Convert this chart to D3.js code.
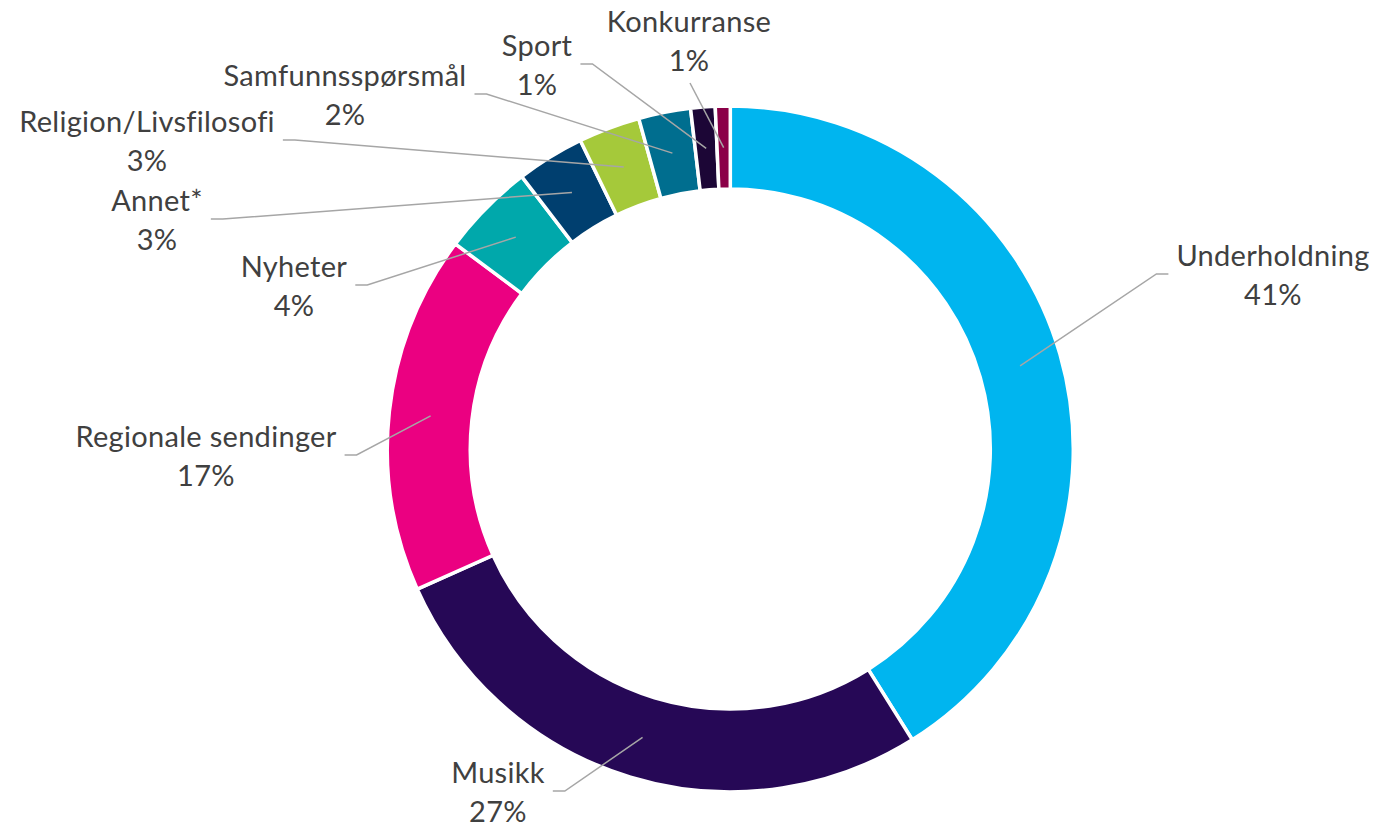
<!DOCTYPE html>
<html>
<head>
<meta charset="utf-8">
<script src="https://cdn.jsdelivr.net/npm/d3@7"></script>
<style>
    body { margin: 0; background: #fff; }
    #chart { width: 1377px; height: 829px; }
    .label { font-family: Lato, "Liberation Sans", sans-serif; font-size: 29px; letter-spacing: 0.3px;
        font-variant-ligatures: none; font-feature-settings: "liga" 0; fill: #404040; }
    .leader { fill: none; stroke: #a6a6a6; stroke-width: 1.5; }
</style>
</head>
<body>
<div id="chart"></div>
<script>

// categories, clockwise from 12 o'clock
const categories = ["Underholdning", "Musikk", "Regionale sendinger", "Nyheter", "Annet*",
    "Religion/Livsfilosofi", "Samfunnsspørsmål", "Sport", "Konkurranse"];

// share of airtime (%)
const shares = [41.1, 27.2, 16.9, 4.4, 3.2, 2.9, 2.45, 1.15, 0.7];

// printed labels
const pctLabels = ["41%", "27%", "17%", "4%", "3%", "3%", "2%", "1%", "1%"];

const colors = ["#00b5ef", "#260856", "#eb0081", "#00a8ab", "#003f6f",
    "#a5c93a", "#006e8f", "#1c0636", "#8b0048"];

/*
LABEL PLACEMENT (label centre x, leader y, which side the leader attaches)
*/
const labelSpots = [
    [1273, 274, "left"],
    [498, 791, "right"],
    [206, 455, "right"],
    [294, 285, "right"],
    [157, 219, "right"],
    [147, 140, "right"],
    [345, 94, "right"],
    [537, 64, "right"],
    [689, 40, "bottom"]
];

const width = 1377;
const height = 829;
const cx = 730.3, cy = 449;
const outerR = 343, innerR = 260;

const svg = d3.select("#chart")
    .append("svg")
    .attr("width", width)
    .attr("height", height);

const pie = d3.pie()
    .sort(null)
    .value(function(d) { return d; });

const arc = d3.arc()
    .innerRadius(innerR)
    .outerRadius(outerR);

const arcs = pie(shares);

const ring = svg.append("g")
    .attr("transform", `translate(${cx},${cy})`);

ring.selectAll("path")
    .data(arcs)
    .enter()
    .append("path")
        .attr("d", arc)
        .attr("fill", function(d, i) { return colors[i]; })
        .attr("stroke", "#fff")
        .attr("stroke-width", 3.5);

/*
LABELS + LEADER LINES
*/
const leaders = svg.append("g");
const labels = svg.append("g");

arcs.forEach(function(d, i) {
    const spot = labelSpots[i];
    const lx = spot[0], ly = spot[1], side = spot[2];

    const t = labels.append("text")
        .attr("class", "label")
        .attr("text-anchor", "middle");
    t.append("tspan")
        .attr("x", lx)
        .attr("y", ly - 8)
        .text(categories[i]);
    t.append("tspan")
        .attr("x", lx)
        .attr("y", ly + 31)
        .text(pctLabels[i]);

    const w = t.node().getBBox().width;
    const c = arc.centroid(d);
    const end = [cx + c[0], cy + c[1]];

    let pts;
    if (side === "right") {
        const x0 = lx + w / 2 + 8;
        pts = [[x0, ly], [x0 + 12, ly], end];
    } else if (side === "left") {
        const x0 = lx - w / 2 - 8;
        pts = [[x0, ly], [x0 - 12, ly], end];
    } else {
        pts = [[lx + 1, ly + 43], end];
    }

    leaders.append("path")
        .attr("class", "leader")
        .attr("d", d3.line()(pts));
});

</script>
</body>
</html>
